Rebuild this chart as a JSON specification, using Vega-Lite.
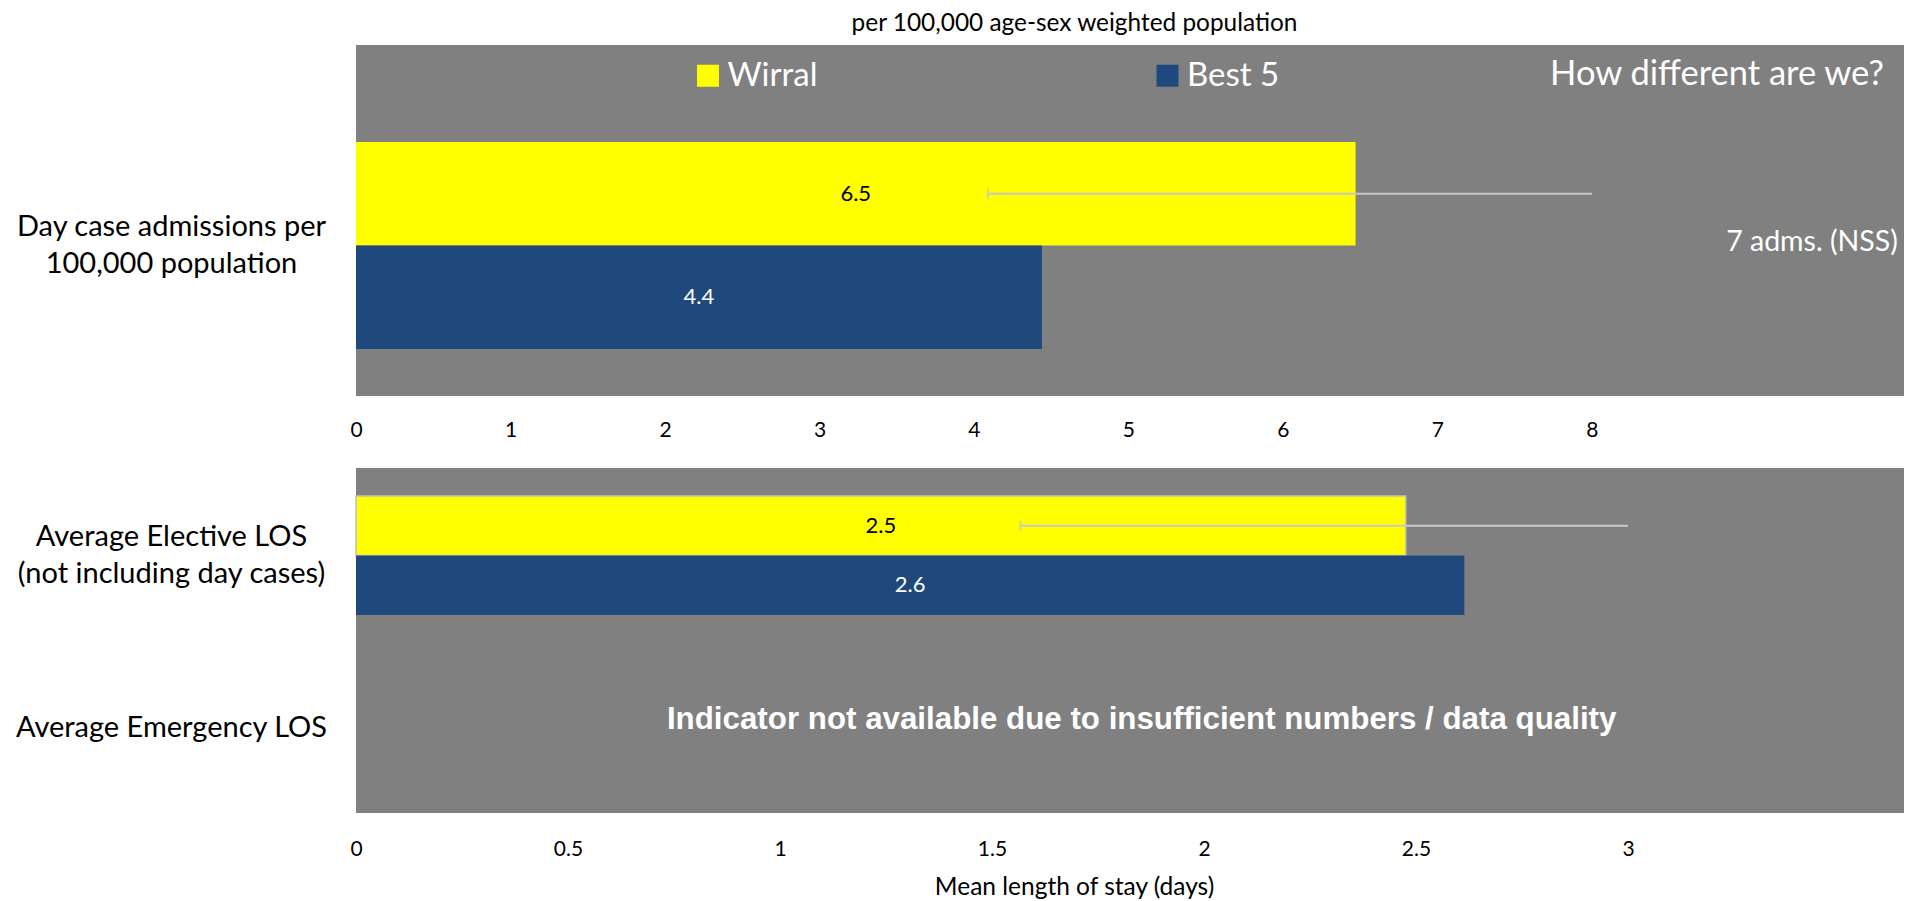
{
  "$schema": "https://vega.github.io/schema/vega-lite/v6.json",
  "padding": {"left": 15, "top": 11, "right": 5, "bottom": 2},
  "background": "white",
  "bounds": "flush",
  "spacing": 72,
  "config": {
    "view": {"fill": "#808080", "stroke": null},
    "font": "Lato",
    "axis": {"grid": false, "ticks": false, "tickSize": 0, "domain": false, "labelFont": "Lato", "labelColor": "#000000", "titleFont": "Lato", "titleFontWeight": "normal", "titleColor": "#000000"}
  },
  "datasets": {
    "dayCase": [
      {"indicator": "Day case admissions per|100,000 population", "series": "Wirral", "value": 6.47},
      {"indicator": "Day case admissions per|100,000 population", "series": "Best 5", "value": 4.44}
    ],
    "dayCaseCI": [
      {"indicator": "Day case admissions per|100,000 population", "series": "Wirral", "lower": 4.09, "upper": 8}
    ],
    "dayCaseNotes": [
      {"indicator": "Day case admissions per|100,000 population", "header": "How different are we?", "note": "7 adms. (NSS)"}
    ],
    "los": [
      {"indicator": "Average Elective LOS|(not including day cases)", "series": "Wirral", "value": 2.476},
      {"indicator": "Average Elective LOS|(not including day cases)", "series": "Best 5", "value": 2.614}
    ],
    "losCI": [
      {"indicator": "Average Elective LOS|(not including day cases)", "series": "Wirral", "lower": 1.567, "upper": 3}
    ],
    "losNotes": [
      {"indicator": "Average Emergency LOS", "note": "Indicator not available due to insufficient numbers / data quality"}
    ]
  },
  "resolve": {"scale": {"color": "independent", "yOffset": "independent"}, "legend": {"color": "independent"}},
  "vconcat": [
    {
      "width": 1548,
      "height": 351,
      "title": {"text": "per 100,000 age-sex weighted population", "font": "Lato", "fontSize": 24.4, "fontWeight": "normal", "color": "#000000", "anchor": "middle", "frame": "group", "dx": -55.5, "baseline": "alphabetic", "offset": -10.5},
      "resolve": {"scale": {"x": "independent"}},
      "layer": [
        {
          "data": {"name": "dayCase"},
          "mark": {"type": "bar"},
          "encoding": {
            "y": {"field": "indicator", "type": "nominal", "scale": {"domain": ["Day case admissions per|100,000 population"], "paddingInner": 0, "paddingOuter": 0.3478, "align": 0.6736},
                  "axis": {"title": null, "labelExpr": "split(datum.value, '|')", "labelAlign": "center", "labelBaseline": "middle", "labelPadding": 185, "labelOffset": -18.5, "labelFontSize": 29, "labelLineHeight": 37, "labelLimit": 500}},
            "yOffset": {"field": "series", "type": "nominal", "scale": {"domain": ["Wirral", "Best 5"], "paddingInner": 0, "paddingOuter": 0}},
            "x": {"field": "value", "type": "quantitative", "scale": {"domain": [0, 10.02], "nice": false},
                  "axis": {"title": null, "values": [0, 1, 2, 3, 4, 5, 6, 7, 8], "format": "~g", "labelFontSize": 21, "labelBaseline": "alphabetic", "labelPadding": 40, "labelFlush": false, "labelOverlap": false}},
            "color": {"field": "series", "type": "nominal", "scale": {"domain": ["Wirral", "Best 5"], "range": ["#FFFF00", "#1F497D"]},
                      "legend": {"orient": "none", "legendX": 335.5, "legendY": 14, "direction": "horizontal", "columns": 2, "columnPadding": 333.5, "title": null, "symbolType": "square", "symbolSize": 484, "symbolStrokeWidth": 0, "symbolOpacity": 1, "labelFont": "Lato", "labelFontSize": 33, "labelColor": "#FFFFFF", "labelOffset": 3, "padding": 0, "labelLimit": 300}}
          }
        },
        {
          "data": {"name": "dayCaseCI"},
          "mark": {"type": "rule", "color": "#C8C8C8", "strokeWidth": 2},
          "encoding": {
            "y": {"field": "indicator", "type": "nominal"},
            "yOffset": {"field": "series", "type": "nominal"},
            "x": {"field": "lower", "type": "quantitative", "scale": {"domain": [0, 10.02], "nice": false}, "axis": null},
            "x2": {"field": "upper"}
          }
        },
        {
          "data": {"name": "dayCaseCI"},
          "mark": {"type": "tick", "orient": "vertical", "color": "#C8C8C8", "size": 11, "thickness": 2},
          "encoding": {
            "y": {"field": "indicator", "type": "nominal"},
            "yOffset": {"field": "series", "type": "nominal"},
            "x": {"field": "lower", "type": "quantitative", "scale": {"domain": [0, 10.02], "nice": false}, "axis": null}
          }
        },
        {
          "data": {"name": "dayCase"},
          "mark": {"type": "text", "font": "Lato", "fontSize": 22, "align": "center", "baseline": "middle"},
          "encoding": {
            "y": {"field": "indicator", "type": "nominal"},
            "yOffset": {"field": "series", "type": "nominal"},
            "x": {"field": "value", "type": "quantitative", "scale": {"domain": [0, 20.04], "nice": false}, "axis": null},
            "text": {"field": "value", "type": "quantitative", "format": ".1f"},
            "color": {"condition": {"test": "datum.series === 'Wirral'", "value": "#000000"}, "value": "#FFFFFF"}
          }
        },
        {
          "data": {"name": "dayCaseNotes"},
          "mark": {"type": "text", "font": "Lato", "fontSize": 28.5, "align": "right", "baseline": "alphabetic", "color": "#FFFFFF", "dy": 6},
          "encoding": {
            "y": {"field": "indicator", "type": "nominal"},
            "x": {"datum": 9.98, "type": "quantitative", "scale": {"domain": [0, 10.02], "nice": false}, "axis": null},
            "text": {"field": "note"}
          }
        },
        {
          "data": {"name": "dayCaseNotes"},
          "mark": {"type": "text", "font": "Lato", "fontSize": 34.5, "align": "right", "baseline": "alphabetic", "color": "#FFFFFF", "dy": -160.5},
          "encoding": {
            "y": {"field": "indicator", "type": "nominal"},
            "x": {"datum": 9.89, "type": "quantitative", "scale": {"domain": [0, 10.02], "nice": false}, "axis": null},
            "text": {"field": "header"}
          }
        }
      ]
    },
    {
      "width": 1548,
      "height": 345,
      "resolve": {"scale": {"x": "independent"}},
      "layer": [
        {
          "data": {"name": "los"},
          "mark": {"type": "bar", "strokeWidth": 1.5},
          "encoding": {
            "y": {"field": "indicator", "type": "nominal", "scale": {"domain": ["Average Elective LOS|(not including day cases)", "Average Emergency LOS"], "paddingInner": 0.308, "paddingOuter": 0.157, "align": 0.52},
                  "axis": {"title": null, "labelExpr": "split(datum.value, '|')", "labelAlign": "center", "labelBaseline": "middle", "labelPadding": 185,
                           "labelOffset": {"condition": {"test": "indexof(datum.value, '|') >= 0", "value": -18.5}, "value": 0},
                           "labelFontSize": 29, "labelLineHeight": 37, "labelLimit": 500}},
            "yOffset": {"field": "series", "type": "nominal", "scale": {"domain": ["Wirral", "Best 5"], "paddingInner": 0, "paddingOuter": 0}},
            "x": {"field": "value", "type": "quantitative", "scale": {"domain": [0, 3.651], "nice": false},
                  "axis": {"title": "Mean length of stay (days)", "values": [0, 0.5, 1, 1.5, 2, 2.5, 3], "format": "~g", "labelFontSize": 21, "labelBaseline": "alphabetic", "labelPadding": 42, "labelFlush": false, "labelOverlap": false, "titleFontSize": 24.5, "titleX": 718, "titleY": 81, "titleAlign": "center", "titleBaseline": "alphabetic"}},
            "color": {"field": "series", "type": "nominal", "scale": {"domain": ["Wirral", "Best 5"], "range": ["#FFFF00", "#1F497D"]}, "legend": null},
            "stroke": {"condition": {"test": "datum.series === 'Wirral'", "value": "#C0C0C0"}, "value": null}
          }
        },
        {
          "data": {"name": "losCI"},
          "mark": {"type": "rule", "color": "#C8C8C8", "strokeWidth": 2},
          "encoding": {
            "y": {"field": "indicator", "type": "nominal"},
            "yOffset": {"field": "series", "type": "nominal"},
            "x": {"field": "lower", "type": "quantitative", "scale": {"domain": [0, 3.651], "nice": false}, "axis": null},
            "x2": {"field": "upper"}
          }
        },
        {
          "data": {"name": "losCI"},
          "mark": {"type": "tick", "orient": "vertical", "color": "#C8C8C8", "size": 11, "thickness": 2},
          "encoding": {
            "y": {"field": "indicator", "type": "nominal"},
            "yOffset": {"field": "series", "type": "nominal"},
            "x": {"field": "lower", "type": "quantitative", "scale": {"domain": [0, 3.651], "nice": false}, "axis": null}
          }
        },
        {
          "data": {"name": "los"},
          "mark": {"type": "text", "font": "Lato", "fontSize": 22, "align": "center", "baseline": "middle"},
          "encoding": {
            "y": {"field": "indicator", "type": "nominal"},
            "yOffset": {"field": "series", "type": "nominal"},
            "x": {"field": "value", "type": "quantitative", "scale": {"domain": [0, 7.302], "nice": false}, "axis": null},
            "text": {"field": "value", "type": "quantitative", "format": ".1f"},
            "color": {"condition": {"test": "datum.series === 'Wirral'", "value": "#000000"}, "value": "#FFFFFF"}
          }
        },
        {
          "data": {"name": "losNotes"},
          "mark": {"type": "text", "font": "Liberation Sans", "fontWeight": "bold", "fontSize": 31.3, "align": "center", "baseline": "alphabetic", "color": "#FFFFFF", "dy": 1},
          "encoding": {
            "y": {"field": "indicator", "type": "nominal"},
            "x": {"datum": 1.853, "type": "quantitative", "scale": {"domain": [0, 3.651], "nice": false}, "axis": null},
            "text": {"field": "note"}
          }
        }
      ]
    }
  ]
}
